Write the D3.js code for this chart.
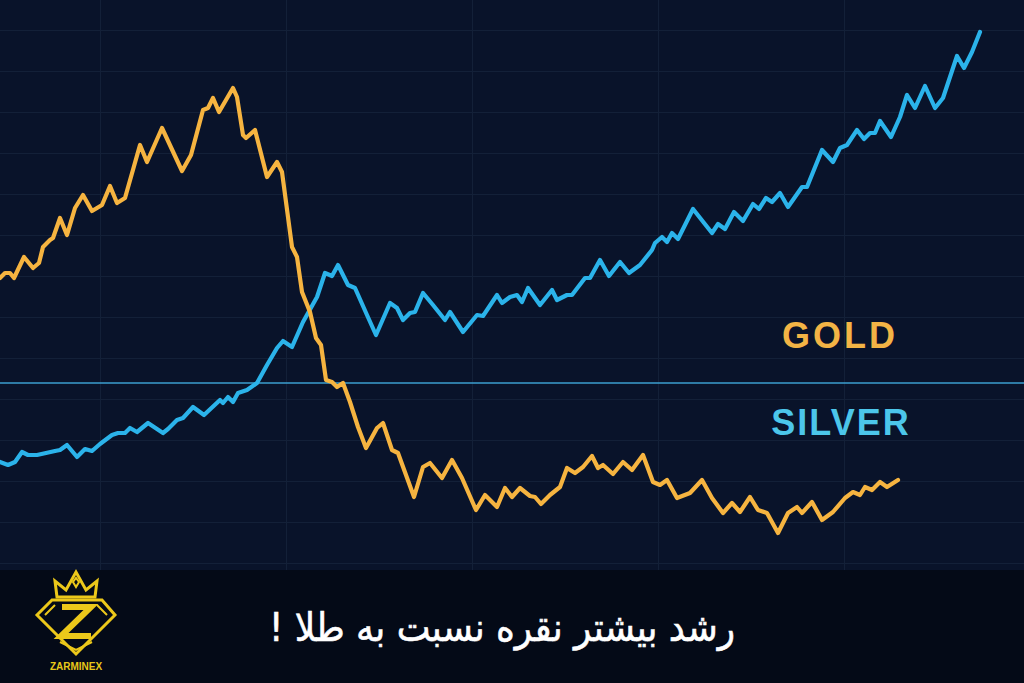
<!DOCTYPE html>
<html><head><meta charset="utf-8">
<script src="https://cdn.jsdelivr.net/npm/d3@7/dist/d3.min.js"></script>
<style>html,body{margin:0;padding:0;background:#050b18;}svg{display:block;}</style>
</head><body>
<svg id="c" width="1024" height="683"></svg>
<script>
// ---- data (time index vs. relative value) ----
const goldT = [0,5,10,14,24,33,39,43,50,53,60,67,75,83,92,102,110,117,125,140,147,162,182,191,203,208,213,219,233,237,243,246,255,267,277,282,292,297,302,310,316,321,326,332,337,343,350,358,366,377,383,392,398,414,423,430,442,452,462,476,485,497,505,512,520,530,535,541,550,560,567,575,583,592,598,603,613,623,632,643,653,660,667,677,690,702,712,723,732,740,750,758,767,778,788,797,802,812,822,833,845,853,860,865,872,880,887,898];
const goldV = [326,331,331,326,347,336,341,357,364,366,386,369,396,409,393,399,418,401,406,459,442,476,433,449,494,496,506,492,516,507,469,466,474,427,442,432,357,347,312,292,266,259,224,222,217,221,202,177,156,176,181,154,151,107,137,141,126,144,126,94,109,97,116,107,116,108,107,100,109,117,136,131,137,148,136,139,130,142,134,149,122,119,124,106,111,124,106,91,101,92,107,94,91,71,91,97,91,102,84,92,106,112,109,117,114,122,117,124];
const silverT = [0,8,15,22,28,37,55,60,67,77,85,92,100,112,118,125,130,137,148,163,168,177,183,193,204,220,223,228,233,238,247,257,267,277,283,292,303,317,325,332,338,348,355,367,376,390,397,403,410,415,423,433,445,450,463,477,483,497,502,510,517,522,528,540,552,557,567,572,585,590,600,609,620,629,640,652,655,662,667,672,678,693,712,718,725,734,743,753,759,766,772,780,788,802,807,822,833,840,847,857,864,870,875,880,891,900,907,915,925,935,943,948,957,964,972,980];
const silverV = [142,139,142,152,149,149,153,154,159,147,155,153,160,169,171,171,176,172,181,171,175,184,186,197,189,204,201,207,202,211,214,221,239,256,263,257,282,307,331,328,339,319,316,289,269,301,296,284,291,292,311,299,284,292,272,289,288,309,301,307,309,302,316,299,314,304,309,309,326,326,344,328,342,331,339,354,361,367,362,371,365,395,371,380,375,392,383,400,395,406,402,411,397,417,417,454,442,456,459,474,465,471,471,483,467,487,509,496,518,496,506,521,548,536,552,572];
const baseLevel = 221;
const gridTimes = [100,286,472,658,844];
const seriesLabels = ["GOLD","SILVER"];
const title = "رشد بیشتر نقره نسبت به طلا !";
const brand = "ZARMINEX";

// ---- layout ----
const W = 1024, H = 683, chartH = 570;
const svg = d3.select("#c");
const x = d3.scaleLinear().domain([0,1024]).range([0,1024]);
const y = d3.scaleLinear().domain([0,574]).range([604,30]);

svg.append("rect").attr("width",W).attr("height",H).attr("fill","#040a17");
svg.append("rect").attr("width",W).attr("height",chartH).attr("fill","#09132a");

svg.append("defs").append("clipPath").attr("id","clip")
  .append("rect").attr("width",W).attr("height",chartH);
const g = svg.append("g").attr("clip-path","url(#clip)");

// grid
g.append("g").selectAll("line").data(d3.range(0,575,41)).join("line")
  .attr("x1",0).attr("x2",W).attr("y1",d=>y(d)+0.5).attr("y2",d=>y(d)+0.5)
  .attr("stroke","#132038").attr("stroke-width",1);
g.append("g").selectAll("line").data(gridTimes).join("line")
  .attr("x1",d=>x(d)+0.5).attr("x2",d=>x(d)+0.5).attr("y1",0).attr("y2",chartH)
  .attr("stroke","#132038").attr("stroke-width",1);

// baseline
g.append("line").attr("x1",0).attr("x2",W).attr("y1",y(baseLevel)).attr("y2",y(baseLevel))
  .attr("stroke","#3b9fcf").attr("stroke-width",1.4);

const line = d3.line().x(d=>x(d[0])).y(d=>y(d[1])).curve(d3.curveLinear);
const silver = silverT.map((t,i)=>[t,silverV[i]]);
const gold = goldT.map((t,i)=>[t,goldV[i]]);
g.append("path").datum(silver).attr("d",line).attr("fill","none")
  .attr("stroke","#2bb3ea").attr("stroke-width",4.2).attr("stroke-linejoin","round").attr("stroke-linecap","round");
g.append("path").datum(gold).attr("d",line).attr("fill","none")
  .attr("stroke","#f6b440").attr("stroke-width",4.2).attr("stroke-linejoin","round").attr("stroke-linecap","round");

// labels
svg.append("text").attr("x",840).attr("y",348).attr("text-anchor","middle")
  .attr("font-family","Liberation Sans, Arial, sans-serif").attr("font-weight","bold")
  .attr("font-size",36).attr("letter-spacing",3).attr("fill","#f3b445").text(seriesLabels[0]);
svg.append("text").attr("x",841).attr("y",435).attr("text-anchor","middle")
  .attr("font-family","Liberation Sans, Arial, sans-serif").attr("font-weight","bold")
  .attr("font-size",36).attr("letter-spacing",2).attr("fill","#4cc6ea").text(seriesLabels[1]);

// title
svg.append("text").attr("x",502).attr("y",641).attr("text-anchor","middle")
  .attr("direction","rtl").attr("font-family","DejaVu Sans, sans-serif")
  .attr("font-size",39).attr("fill","#ffffff").attr("stroke","#ffffff").attr("stroke-width",0.6)
  .attr("textLength",466).attr("lengthAdjust","spacingAndGlyphs").text(title);

// logo
const logo = svg.append("g").attr("fill","none").attr("stroke","#ecc81a").attr("stroke-linejoin","miter");
logo.append("path").attr("d","M57,597 L55,581 L66,590 L76,572 L86,590 L97,581 L95,597 Z").attr("stroke-width",3);
logo.append("path").attr("d","M73,582 L76,578 L79,582 L76,587 Z").attr("stroke-width",2);
logo.append("path").attr("d","M52,600 L102,600 L115,615 L76,654 L37,615 Z").attr("stroke-width",3);
logo.append("path").attr("d","M45,615 L55,605 M107,615 L97,605 M60,642 L76,650 L92,642").attr("stroke-width",2);
logo.append("path").attr("d","M62,607 L91,607 L61,636 L91,636").attr("stroke-width",6);
svg.append("text").attr("x",76).attr("y",670).attr("text-anchor","middle")
  .attr("font-family","Liberation Sans, Arial, sans-serif").attr("font-weight","bold")
  .attr("font-size",10).attr("fill","#e8c81a").text(brand);
</script>
</body></html>
